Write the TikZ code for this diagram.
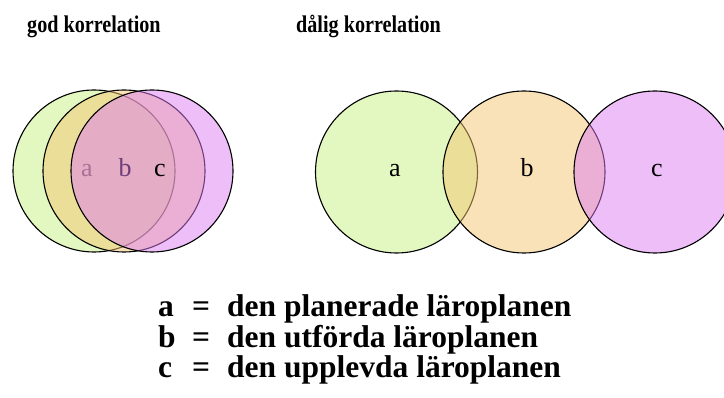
\documentclass[tikz,border=0pt]{standalone}
\usepackage{fontspec}
\setmainfont{Liberation Serif}
\usepackage{graphicx}
\definecolor{cgreen}{RGB}{199,239,129}
\definecolor{cyellow}{RGB}{245,197,113}
\definecolor{cmag}{RGB}{221,125,243}
\begin{document}
\begin{tikzpicture}[x=1pt,y=-1pt,
  ring/.style={draw=black,line width=1.1pt,fill opacity=0.5,draw opacity=1},
  lbl/.style={font=\fontsize{26}{26}\selectfont,inner sep=0pt,anchor=base},
  ttl/.style={font=\bfseries\fontsize{24}{24}\selectfont,inner sep=0pt,anchor=base west},
  leg/.style={font=\bfseries\fontsize{31.5}{31.5}\selectfont,inner sep=0pt,anchor=base west}]
\useasboundingbox (0,0) rectangle (724,398);
\clip (0,0) rectangle (724,398);
% titles
\node[ttl] (t1) at (27,33) {\scalebox{0.84}[1]{god korrelation}};
\node[ttl] (t2) at (296,33) {\scalebox{0.84}[1]{dålig korrelation}};
% left group
\path[ring,fill=cgreen] (94,171) circle[radius=81];
\node[lbl] (la) at (87,177) {a};
\path[ring,fill=cyellow] (124,171) circle[radius=81];
\node[lbl] (lb) at (125,177) {b};
\path[ring,fill=cmag] (152,171) circle[radius=81];
\node[lbl] (lc) at (160,177) {c};
% right group
\path[ring,fill=cgreen] (396.5,172) circle[radius=81];
\path[ring,fill=cyellow] (524,172) circle[radius=81];
\path[ring,fill=cmag] (655,172) circle[radius=81];
\node[lbl] (ra) at (395,177) {a};
\node[lbl] (rb) at (527,177) {b};
\node[lbl] (rc) at (657,177) {c};
% legend
\node[leg] (k1) at (158,317) {a};
\node[leg] (e1) at (192,317) {=};
\node[leg] (d1) at (227,317) {den planerade läroplanen};
\node[leg] (k2) at (158,348) {b};
\node[leg] (e2) at (192,348) {=};
\node[leg] (d2) at (227,348) {den utförda läroplanen};
\node[leg] (k3) at (158,378) {c};
\node[leg] (e3) at (192,378) {=};
\node[leg] (d3) at (227,378) {den upplevda läroplanen};
\end{tikzpicture}
\end{document}
